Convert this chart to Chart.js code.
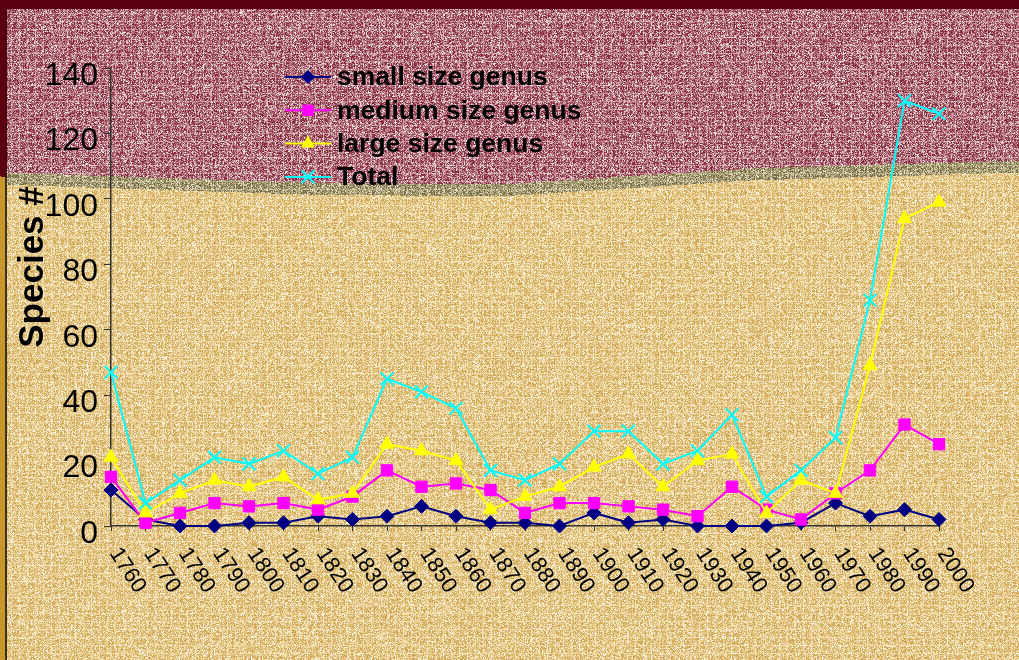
<!DOCTYPE html>
<html>
<head>
<meta charset="utf-8">
<script src="https://cdn.jsdelivr.net/npm/chart.js@4.4.0/dist/chart.umd.min.js"></script>
<style>
  html, body { margin: 0; padding: 0; background: #5c0010; }
  canvas { display: block; }
</style>
</head>
<body>
<canvas id="chart" width="1019" height="660"></canvas>
<script>
// data
const years = ['1760','1770','1780','1790','1800','1810','1820','1830','1840','1850','1860','1870','1880',
  '1890','1900','1910','1920','1930','1940','1950','1960','1970','1980','1990','2000'];
const smallGenus  = [11, 2, 0, 0, 1, 1, 3, 2, 3, 6, 3, 1, 1, 0, 4, 1, 2, 0, 0, 0, 1, 7, 3, 5, 2];
const mediumGenus = [15, 1, 4, 7, 6, 7, 5, 9, 17, 12, 13, 11, 4, 7, 7, 6, 5, 3, 12, 5, 2, 10, 17, 31, 25];
const largeGenus  = [21, 4, 10, 14, 12, 15, 8, 10, 25, 23, 20, 5, 9, 12, 18, 22, 12, 20, 22, 4, 14, 10, 49, 94, 99];
const totalGenus  = [47, 7, 14, 21, 19, 23, 16, 21, 45, 41, 36, 17, 14, 19, 29, 29, 19, 23, 34, 9, 17, 27, 69, 130, 126];
const yMax = 140;
const yStep = 20;

const FONT = '"Liberation Sans", Arial, sans-serif';
const W = 1019, H = 660;

// --- textured slide background (deterministic hash, decoration only) ---
function hash(x, y) {
  let h = Math.imul(x, 374761393) + Math.imul(y, 668265263) | 0;
  h = Math.imul(h ^ (h >>> 13), 1274126177);
  h = h ^ (h >>> 16);
  return (h >>> 0) / 4294967296;
}
const maroonPal = [[135, 45, 62], [170, 100, 114], [205, 160, 168], [240, 225, 228]];
const tanPal    = [[208, 168, 88], [226, 196, 128], [240, 222, 172], [250, 244, 228]];
const olivePal  = [[120, 108, 70], [160, 150, 108], [198, 188, 150], [232, 226, 205]];
const boundary = [[0, 176], [300, 186], [500, 188], [750, 172], [1019, 164]];
function edgeY(x) {
  for (let i = 1; i < boundary.length; i++) {
    if (x <= boundary[i][0]) {
      const [x0, y0] = boundary[i - 1], [x1, y1] = boundary[i];
      return y0 + (y1 - y0) * (x - x0) / (x1 - x0);
    }
  }
  return boundary[boundary.length - 1][1];
}
let bgImage = null;
function buildBackground(ctx) {
  const img = ctx.createImageData(W, H);
  const d = img.data;
  for (let y = 0; y < H; y++) {
    for (let x = 0; x < W; x++) {
      const e = edgeY(x);
      let c;
      if (y < 9) {
        c = [92, 0, 16];
      } else if (x < 5) {
        c = y < e ? [92, 0, 16] : [200, 150, 42];
      } else if (x < 7) {
        c = y < e ? [70, 10, 20] : [60, 50, 30];
      } else {
        const pal = y < e - 4 ? maroonPal : (y < e + 8 ? olivePal : tanPal);
        let r = hash(x, y);
        if (x % 8 === 3 || y % 8 === 5) r = Math.min(0.999, r * 0.5 + 0.5);
        const k = r < 0.35 ? 0 : r < 0.68 ? 1 : r < 0.9 ? 2 : 3;
        c = pal[k];
      }
      const o = (y * W + x) * 4;
      d[o] = c[0]; d[o + 1] = c[1]; d[o + 2] = c[2]; d[o + 3] = 255;
    }
  }
  return img;
}

const bgPlugin = {
  id: 'slideBg',
  beforeDraw(chart) {
    if (!bgImage) bgImage = buildBackground(chart.ctx);
    chart.ctx.putImageData(bgImage, 0, 0);
  }
};

// --- marker drawing for legend ---
function drawMarker(ctx, style, x, y, r, color) {
  ctx.save();
  ctx.fillStyle = color; ctx.strokeStyle = color; ctx.lineWidth = 2;
  ctx.beginPath();
  if (style === 'rectRot') {
    ctx.moveTo(x, y - r); ctx.lineTo(x + r, y); ctx.lineTo(x, y + r); ctx.lineTo(x - r, y); ctx.closePath(); ctx.fill();
  } else if (style === 'rect') {
    const s = r * Math.SQRT1_2;
    ctx.rect(x - s, y - s, 2 * s, 2 * s); ctx.fill();
  } else if (style === 'triangle') {
    const w = r * Math.sqrt(3) / 2;
    ctx.moveTo(x, y - r); ctx.lineTo(x + w, y + r / 2); ctx.lineTo(x - w, y + r / 2); ctx.closePath(); ctx.fill();
  } else {
    const s = r * Math.SQRT1_2;
    ctx.moveTo(x - s, y - s); ctx.lineTo(x + s, y + s); ctx.moveTo(x + s, y - s); ctx.lineTo(x - s, y + s); ctx.stroke();
  }
  ctx.restore();
}

const decorPlugin = {
  id: 'decor',
  afterDraw(chart) {
    const ctx = chart.ctx;
    const xs = chart.scales.x;
    ctx.save();
    // rotated year labels, reading downward to the right
    ctx.font = '22px ' + FONT;
    ctx.fillStyle = '#000';
    ctx.textAlign = 'left';
    ctx.textBaseline = 'middle';
    years.forEach((lab, i) => {
      const px = xs.getPixelForTick(i);
      ctx.save();
      ctx.translate(px + 3, xs.top + 24);
      ctx.rotate(57 * Math.PI / 180);
      ctx.fillText(lab, 0, 0);
      ctx.restore();
    });
    // y title
    ctx.save();
    ctx.translate(33, 267);
    ctx.rotate(-Math.PI / 2);
    ctx.font = 'bold 35px ' + FONT;
    ctx.textAlign = 'center';
    ctx.fillText('Species #', 0, 0);
    ctx.restore();
    // legend
    ctx.font = 'bold 26.5px ' + FONT;
    ctx.textAlign = 'left';
    chart.data.datasets.forEach((ds, i) => {
      const y = 77 + i * 33.3;
      ctx.strokeStyle = ds.borderColor;
      ctx.lineWidth = 2;
      ctx.beginPath(); ctx.moveTo(285, y); ctx.lineTo(331, y); ctx.stroke();
      drawMarker(ctx, ds.pointStyle, 308, y, ds.pointRadius, ds.pointBackgroundColor);
      ctx.fillStyle = '#000';
      ctx.fillText(ds.label, 337, y + 1);
    });
    ctx.restore();
  }
};

function series(label, data, color, style, radius, order) {
  return {
    label, data, order,
    borderColor: color,
    backgroundColor: color,
    pointBackgroundColor: color,
    pointBorderColor: color,
    pointStyle: style,
    pointRadius: radius,
    pointBorderWidth: style === 'crossRot' ? 2 : 1,
    borderWidth: 2,
    tension: 0,
    clip: false
  };
}

new Chart(document.getElementById('chart'), {
  type: 'line',
  data: {
    labels: years,
    datasets: [
      series('small size genus', smallGenus, '#000080', 'rectRot', 7, 3),
      series('medium size genus', mediumGenus, '#FF00FF', 'rect', 8, 2),
      series('large size genus', largeGenus, '#FFFF00', 'triangle', 8, 1),
      series('Total', totalGenus, '#00FFFF', 'crossRot', 9, 0)
    ]
  },
  options: {
    responsive: false,
    devicePixelRatio: 1,
    animation: false,
    layout: { padding: { top: 68, right: 80, bottom: 0, left: 0 } },
    plugins: { legend: { display: false }, tooltip: { enabled: false } },
    scales: {
      x: {
        type: 'category',
        offset: false,
        ticks: { display: false },
        grid: { drawOnChartArea: false, tickLength: 5, color: '#333', lineWidth: 1 },
        border: { color: '#333', width: 1.5 },
        afterFit(scale) { scale.height = 134; }
      },
      y: {
        min: 0, max: yMax,
        ticks: { stepSize: yStep, color: '#000', padding: 6, labelOffset: 8, font: { family: FONT, size: 32 } },
        grid: { drawOnChartArea: false, tickLength: 7, color: '#333', lineWidth: 1 },
        border: { color: '#333', width: 1.5 },
        afterFit(scale) { scale.width = 111; }
      }
    }
  },
  plugins: [bgPlugin, decorPlugin]
});
</script>
</body>
</html>
